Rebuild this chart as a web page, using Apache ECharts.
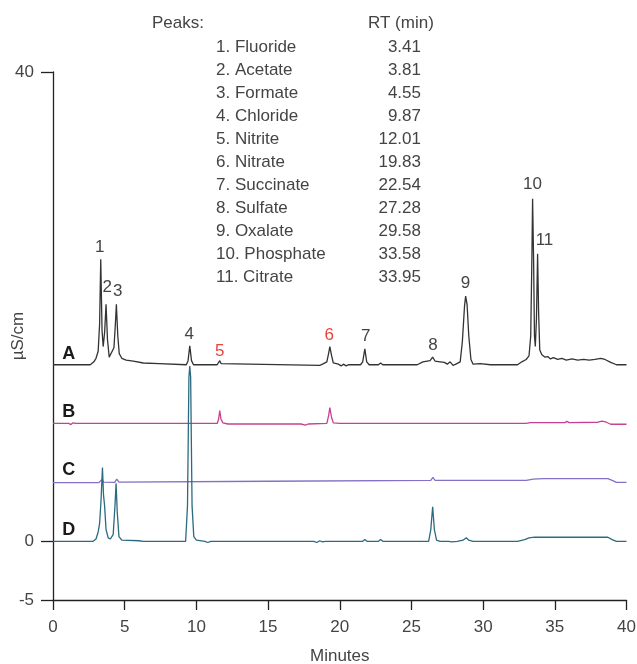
<!DOCTYPE html>
<html>
<head>
<meta charset="utf-8">
<script src="https://cdn.jsdelivr.net/npm/echarts@6/dist/echarts.min.js"></script>
<style>html,body{margin:0;padding:0;background:#fff}#c{width:637px;height:664px}</style>
</head>
<body>
<div id="c"></div>
<script>
// ---- data (minutes, µS/cm) ----
const xTicks = [0, 5, 10, 15, 20, 25, 30, 35, 40];
const yTicks = [-5, 0, 40];
const traceNames = ['A', 'B', 'C', 'D'];
const traceLabelTime = [1.1, 1.1, 1.1, 1.1];
const traceLabelLevel = [15.96, 11.02, 6.08, 0.96];

const traceA = [
  [0,15.05],[2.6,15.05],[2.85,15.3],[3.0,15.6],[3.15,16.2],[3.25,18.5],[3.33,24.05],[3.42,18.0],
  [3.5,16.6],[3.6,17.8],[3.70,20.2],[3.80,17.2],[3.92,15.7],[4.05,15.6],[4.25,16.5],[4.35,18.5],
  [4.42,20.2],[4.52,17.5],[4.62,16.0],[4.8,15.6],[5.1,15.45],[5.6,15.35],[6.3,15.2],[7.4,15.15],
  [7.5,15.05],[9.3,15.05],[9.42,15.4],[9.54,16.67],[9.66,15.4],[9.8,15.05],[11.45,15.05],
  [11.55,15.2],[11.63,15.4],[11.72,15.15],[11.85,15.0],[18.6,15.0],[18.8,15.1],[19.1,15.3],
  [19.22,16.0],[19.31,16.6],[19.42,15.9],[19.55,15.2],[19.9,15.1],[20.1,14.95],[20.25,15.1],
  [20.45,14.95],[20.6,15.05],[21.45,15.05],[21.6,15.3],[21.75,16.4],[21.88,15.3],[22.05,15.05],
  [22.7,15.05],[22.85,15.2],[23.0,15.05],[25.4,15.05],[25.8,15.3],[26.3,15.4],[26.48,15.7],
  [26.65,15.35],[27.0,15.3],[27.3,15.25],[27.5,15.1],[27.7,15.3],[27.9,15.0],[28.1,15.1],
  [28.4,15.3],[28.55,17.0],[28.7,20.0],[28.78,20.9],[28.88,20.2],[29.0,17.5],[29.15,15.5],
  [29.3,15.1],[29.8,15.15],[30.5,15.05],[32.4,15.05],[32.7,15.3],[33.0,15.5],[33.2,15.8],
  [33.32,17.5],[33.4,24.0],[33.45,29.2],[33.52,24.0],[33.58,17.5],[33.64,16.6],[33.72,19.0],
  [33.8,24.5],[33.87,19.5],[33.95,16.3],[34.1,15.9],[34.3,15.7],[34.5,15.75],[34.7,15.55],
  [34.9,15.65],[35.2,15.5],[35.5,15.6],[35.8,15.45],[36.2,15.55],[36.6,15.45],[37.0,15.5],
  [37.4,15.45],[37.8,15.5],[38.2,15.6],[38.5,15.5],[38.9,15.25],[39.3,15.05],[40,15.05]
];
const traceB = [
  [0,10.05],[1.1,10.05],[1.25,9.95],[1.4,10.1],[1.6,10.05],[3.4,10.05],[3.5,10.15],[3.6,10.05],
  [4.35,10.05],[4.45,10.15],[4.55,10.05],[11.45,10.05],[11.55,10.4],[11.63,11.15],[11.72,10.4],
  [11.85,10.1],[12.2,10.0],[17.0,10.0],[17.1,9.9],[17.3,10.0],[17.6,9.9],[17.8,10.0],[19.1,10.05],
  [19.22,10.7],[19.31,11.4],[19.42,10.6],[19.55,10.1],[20.0,10.05],[33.0,10.05],[33.3,10.12],
  [35.7,10.12],[35.85,10.22],[36.0,10.12],[38.0,10.15],[38.3,10.25],[38.6,10.15],[38.9,9.98],[40,9.98]
];
const traceC = [
  [0,5.0],[3.2,5.0],[3.4,5.25],[3.55,5.05],[4.3,5.02],[4.45,5.3],[4.6,5.05],[15,5.12],
  [26.35,5.2],[26.5,5.45],[26.65,5.2],[33.0,5.2],[33.5,5.3],[34.2,5.35],[38.7,5.35],
  [39.0,5.2],[39.3,5.02],[40,5.02]
];
const traceD = [
  [0,0],[2.8,0],[3.0,0.2],[3.15,0.8],[3.25,1.5],[3.35,3.5],[3.45,6.3],[3.52,4.0],[3.6,3.0],
  [3.7,1.0],[3.85,0.3],[4.0,0.2],[4.2,0.6],[4.32,3.0],[4.4,4.94],[4.48,2.5],[4.6,0.4],[4.8,0.1],
  [6.0,0.05],[6.3,0],[9.25,0],[9.38,3],[9.48,14.0],[9.54,14.94],[9.6,14.0],[9.7,3],[9.82,0.4],
  [10.0,0.1],[10.6,0],[10.8,-0.1],[11.0,0],[18.2,0],[18.4,-0.1],[18.6,0.05],[18.8,-0.05],[19.0,0],
  [21.6,0],[21.75,0.15],[21.9,0],[22.7,0],[22.85,0.15],[23.0,0],[26.2,0],[26.35,1.0],[26.48,2.95],
  [26.6,1.0],[26.75,0.1],[27.0,0],[27.6,0],[27.8,-0.05],[28.2,0],[28.6,0.1],[28.83,0.3],[29.0,0.1],
  [29.3,0],[32.4,0],[32.9,0.15],[33.2,0.3],[33.6,0.35],[38.7,0.35],[39.0,0.15],[39.3,0.0],[40,0]
];

const peakNumbers = ['1','2','3','4','5','6','7','8','9','10','11'];
const peakNames = ['Fluoride','Acetate','Formate','Chloride','Nitrite','Nitrate','Succinate','Sulfate','Oxalate','Phosphate','Citrate'];
const peakRT = ['3.41','3.81','4.55','9.87','12.01','19.83','22.54','27.28','29.58','33.58','33.95'];
const peakLabelTime = [3.26, 3.78, 4.52, 9.5, 11.63, 19.27, 21.82, 26.5, 28.77, 33.44, 34.28];
const peakLabelLevel = [25.09, 21.63, 21.29, 17.67, 16.18, 17.54, 17.5, 16.73, 21.97, 30.45, 25.64];

// ---- styles ----
const FONT = '"Liberation Sans", Arial, sans-serif';
const TXT = '#444';
const traceColors = ['#333333', '#c4428f', '#8470c4', '#2b6a80'];
const redPeaks = ['5', '6'];

const chart = echarts.init(document.getElementById('c'), null, {renderer: 'canvas'});

const lineSeries = [traceA, traceB, traceC, traceD].map((d, i) => ({
  type: 'line', name: traceNames[i], data: d, showSymbol: false, symbol: 'none',
  lineStyle: {color: traceColors[i], width: 1.3}, animation: false, z: 2 + i
}));

function textEl(x, y, text, font, fill, align) {
  return {type: 'text', x: x, y: y, z: 100,
    style: {text: text, fill: fill, font: font, verticalAlign: 'middle', align: align || 'left'}};
}

const graphics = [
  textEl(152, 23.5, 'Peaks:', '17px ' + FONT, TXT),
  textEl(368, 23.5, 'RT (min)', '17px ' + FONT, TXT)
];
peakNames.forEach((nm, i) => {
  const y = 47 + i * 23.05;
  graphics.push(textEl(216, y, peakNumbers[i] + '. ' + nm, '17px ' + FONT, TXT));
  graphics.push(textEl(421, y, peakRT[i], '17px ' + FONT, TXT, 'right'));
});

chart.setOption({
  backgroundColor: '#fff',
  animation: false,
  grid: {left: 53, right: 10.5, top: 72, bottom: 64, containLabel: false, outerBoundsMode: 'none'},
  xAxis: {
    type: 'value', min: 0, max: 40, interval: 5,
    name: 'Minutes', nameLocation: 'middle', nameGap: 48, nameMoveOverlap: false,
    nameTextStyle: {fontSize: 17, color: TXT, fontFamily: FONT},
    axisLine: {onZero: false, lineStyle: {color: '#222', width: 1.3}},
    axisTick: {show: true, length: 10, lineStyle: {color: '#222', width: 1.3}, customValues: xTicks},
    axisLabel: {margin: 19, fontSize: 17, color: TXT, fontFamily: FONT, customValues: xTicks},
    splitLine: {show: false}
  },
  yAxis: {
    type: 'value', min: -5, max: 40, interval: 5,
    name: 'µS/cm', nameLocation: 'middle', nameGap: 26, nameMoveOverlap: false,
    nameTextStyle: {fontSize: 17, color: TXT, fontFamily: FONT},
    axisLine: {show: true, onZero: false, lineStyle: {color: '#222', width: 1.3}},
    axisTick: {show: true, length: 12, lineStyle: {color: '#222', width: 1.3}, customValues: yTicks},
    axisLabel: {margin: 19, fontSize: 17, color: TXT, fontFamily: FONT, customValues: yTicks},
    splitLine: {show: false}
  },
  series: lineSeries
});

// annotations anchored to data coordinates through the chart's own scales
peakNumbers.forEach((n, i) => {
  const p = chart.convertToPixel({gridIndex: 0}, [peakLabelTime[i], peakLabelLevel[i]]);
  graphics.push(textEl(p[0], p[1], n, '17px ' + FONT, redPeaks.includes(n) ? '#e8453c' : TXT, 'center'));
});
traceNames.forEach((n, i) => {
  const p = chart.convertToPixel({gridIndex: 0}, [traceLabelTime[i], traceLabelLevel[i]]);
  graphics.push(textEl(p[0], p[1], n, 'bold 18px ' + FONT, '#1a1a1a', 'center'));
});
chart.setOption({graphic: graphics});
</script>
</body>
</html>
